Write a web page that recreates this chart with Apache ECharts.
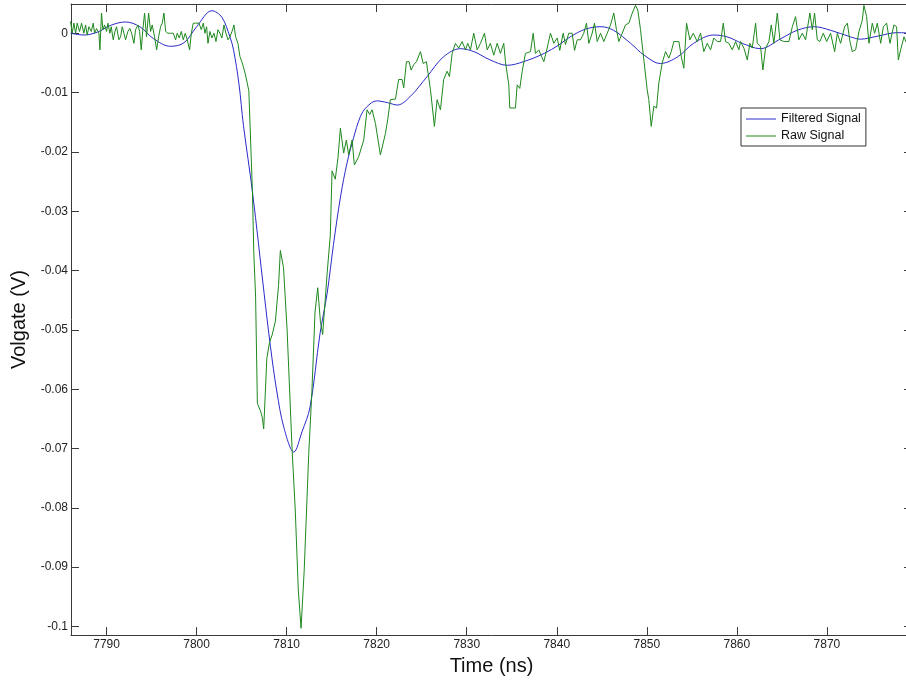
<!DOCTYPE html>
<html><head><meta charset="utf-8">
<script src="https://cdn.jsdelivr.net/npm/echarts@6/dist/echarts.min.js"></script>
<style>html,body{margin:0;padding:0;background:#fff;overflow:hidden;width:906px;height:681px}#c{width:912px;height:681px}</style>
</head><body><div id="c"></div>
<script>
const xTickValues = [7790, 7800, 7810, 7820, 7830, 7840, 7850, 7860, 7870];
const yTickValues = [0, -0.01, -0.02, -0.03, -0.04, -0.05, -0.06, -0.07, -0.08, -0.09, -0.1];
const seriesNames = ['Filtered Signal', 'Raw Signal'];

const filteredSignal = [
[7786.0,0.0],[7787.5,-0.0003],[7789.0,0.0002],[7790.4,0.0013],[7792.1,0.0019],[7793.7,0.0011],
[7795.2,-0.0009],[7797.1,-0.0022],[7798.6,-0.0016],[7800.0,0.0011],[7801.7,0.0038],[7802.8,0.0027],
[7803.7,-0.0006],[7804.1,-0.0028],[7804.7,-0.0085],[7805.2,-0.0155],[7806.2,-0.0267],[7807.5,-0.0439],
[7808.2,-0.0528],[7808.9,-0.0603],[7809.7,-0.0665],[7810.8,-0.0706],[7811.7,-0.0672],[7812.6,-0.0630],
[7813.7,-0.0507],[7814.5,-0.0438],[7815.2,-0.0356],[7816.0,-0.0274],[7816.7,-0.0219],[7817.4,-0.0178],
[7818.2,-0.0140],[7818.9,-0.0124],[7820.0,-0.0114],[7821.2,-0.0117],[7822.3,-0.0121],[7823.7,-0.0107],
[7825.6,-0.0073],[7827.4,-0.0040],[7829.3,-0.0026],[7830.8,-0.0031],[7832.6,-0.0045],[7834.5,-0.0054],
[7836.3,-0.0048],[7838.6,-0.0034],[7840.2,-0.0020],[7841.5,-0.0006],[7843.2,0.0007],[7844.9,0.0011],
[7846.3,0.0005],[7848.2,-0.0017],[7849.7,-0.0037],[7851.5,-0.0051],[7853.4,-0.0040],[7855.2,-0.0017],
[7857.4,-0.0003],[7858.9,-0.0006],[7860.6,-0.0017],[7862.6,-0.0026],[7864.9,-0.0009],[7866.7,0.0005],
[7868.6,0.0011],[7870.4,0.0005],[7872.6,-0.0006],[7873.7,-0.0010],[7875.6,-0.0005],[7877.8,0.0001],
[7879.4,0.0]
];

const rawSignal = [
[7786.00,0.0020],[7786.19,0],[7786.37,0.0017],[7786.56,0],[7786.74,0.0017],[7787.00,0.0003],[7787.22,0.0017],
[7787.48,0],[7787.67,0.0014],[7787.85,-0.0003],[7788.04,0.0011],[7788.30,0.0003],[7788.52,0.0017],[7788.67,0],
[7788.89,0.0008],[7789.15,0],[7789.26,-0.0028],[7789.44,0.0034],[7789.59,0.0006],[7789.78,0.0014],[7790.00,0.0003],
[7790.15,0.0017],[7790.37,0],[7790.52,0.0011],[7790.74,-0.0011],[7790.93,0.0003],[7791.11,0.0011],[7791.37,-0.0011],
[7791.56,-0.0006],[7791.74,0.0011],[7791.93,0],[7792.11,-0.0011],[7792.37,0.0003],[7792.59,0.0008],[7792.78,0],
[7793.04,-0.0017],[7793.22,0.0006],[7793.48,0.0014],[7793.67,0.0003],[7793.85,-0.0028],[7794.04,0.0008],[7794.22,0.0034],
[7794.44,-0.0006],[7794.67,0.0034],[7794.89,0.0003],[7795.07,0.0014],[7795.33,-0.0006],[7795.56,-0.0028],[7795.78,-0.0006],
[7796.00,0.0011],[7796.19,0.0017],[7796.37,0.0034],[7796.56,0.0003],[7796.81,0],[7797.11,0],[7797.41,0],
[7797.67,-0.0011],[7797.85,0],[7798.07,-0.0008],[7798.30,0.0003],[7798.52,-0.0011],[7798.74,0],[7798.96,-0.0011],
[7799.22,-0.0028],[7799.41,0],[7799.63,0.0017],[7799.89,0.0017],[7800.26,0.0017],[7800.52,0.0006],[7800.74,0.0017],
[7800.93,0],[7801.11,0.0011],[7801.26,-0.0017],[7801.48,0.0003],[7801.70,-0.0008],[7801.93,0],[7802.15,-0.0014],
[7802.37,0.0006],[7802.59,0],[7802.81,-0.0008],[7803.04,0.0014],[7803.26,0],[7803.48,-0.0011],[7803.70,-0.0006],
[7803.93,0.0003],[7804.15,0.0014],[7804.33,-0.0006],[7804.59,-0.0017],[7804.81,-0.0039],[7805.07,-0.0050],[7805.40,-0.0068],
[7805.80,-0.0097],[7806.20,-0.0267],[7806.35,-0.0370],[7806.55,-0.0443],[7806.75,-0.0624],[7807.10,-0.0637],[7807.30,-0.0648],
[7807.45,-0.0667],[7807.80,-0.0548],[7808.10,-0.0521],[7808.40,-0.0508],[7808.75,-0.0485],[7809.10,-0.0425],[7809.30,-0.0366],
[7809.65,-0.0395],[7810.05,-0.0500],[7810.60,-0.0700],[7810.95,-0.0802],[7811.30,-0.0940],[7811.60,-0.1003],[7811.95,-0.0905],
[7812.45,-0.0710],[7812.80,-0.0605],[7813.15,-0.0470],[7813.45,-0.0429],[7813.75,-0.0486],[7814.00,-0.0508],[7814.50,-0.0404],
[7814.85,-0.0340],[7815.04,-0.0232],[7815.40,-0.0246],[7815.70,-0.0210],[7815.97,-0.0160],[7816.33,-0.0202],[7816.63,-0.0180],
[7816.89,-0.0205],[7817.27,-0.0180],[7817.52,-0.0222],[7818.00,-0.0208],[7818.56,-0.0180],[7818.93,-0.0129],[7819.22,-0.0137],
[7819.49,-0.0129],[7819.86,-0.0152],[7820.41,-0.0205],[7820.97,-0.0169],[7821.22,-0.0146],[7821.52,-0.0112],[7822.08,-0.0111],
[7822.44,-0.0078],[7822.82,-0.0078],[7823.00,-0.0092],[7823.30,-0.0048],[7823.60,-0.0048],[7823.82,-0.0062],[7824.11,-0.0053],
[7824.41,-0.0048],[7824.86,-0.0031],[7825.16,-0.0051],[7825.52,-0.0048],[7825.97,-0.0095],[7826.41,-0.0157],[7826.71,-0.0112],
[7827.08,-0.0129],[7827.44,-0.0078],[7827.82,-0.0064],[7828.08,-0.0073],[7828.38,-0.0034],[7828.74,-0.0017],[7829.11,-0.0025],
[7829.49,-0.0014],[7829.86,-0.0028],[7830.11,-0.0017],[7830.41,-0.0028],[7830.78,0],[7831.16,-0.0028],[7831.52,-0.0017],
[7831.97,0],[7832.27,-0.0028],[7832.63,-0.0017],[7833.00,-0.0037],[7833.38,-0.0017],[7833.74,-0.0034],[7834.11,-0.0017],
[7834.30,-0.0048],[7834.67,-0.0087],[7834.78,-0.0126],[7835.41,-0.0126],[7835.60,-0.0087],[7835.89,-0.0093],[7836.16,-0.0064],
[7836.52,-0.0034],[7837.08,-0.0031],[7837.38,0],[7837.63,-0.0034],[7838.00,-0.0028],[7838.56,-0.0048],[7838.93,-0.0025],
[7839.30,0],[7839.67,-0.0017],[7840.04,-0.0008],[7840.33,-0.0029],[7840.71,0],[7840.97,-0.0019],[7841.33,0],
[7841.71,0],[7841.97,-0.0029],[7842.27,-0.0011],[7842.63,-0.0011],[7843.00,0],[7843.30,0.0017],[7843.56,-0.0017],
[7843.93,0],[7844.19,0.0017],[7844.49,-0.0014],[7844.86,0],[7845.22,-0.0014],[7845.60,0],[7845.97,0.0014],
[7846.33,0.0034],[7846.63,0.0006],[7846.89,-0.0014],[7847.27,0],[7847.63,0.0014],[7848.00,0.0017],[7848.38,0.0034],
[7848.74,0.0047],[7849.00,0.0039],[7849.30,0.0006],[7849.67,-0.0045],[7850.04,-0.0095],[7850.22,-0.0112],[7850.49,-0.0157],
[7850.78,-0.0123],[7851.08,-0.0126],[7851.33,-0.0084],[7851.71,-0.0050],[7852.08,-0.0031],[7852.44,-0.0042],[7852.71,-0.0031],
[7853.00,-0.0014],[7853.56,-0.0014],[7853.82,-0.0039],[7854.11,-0.0059],[7854.41,0.0017],[7854.78,-0.0011],[7855.16,0],
[7855.60,-0.0014],[7855.97,0],[7856.33,-0.0031],[7856.71,-0.0017],[7857.08,-0.0028],[7857.44,-0.0008],[7857.82,-0.0014],
[7858.19,-0.0014],[7858.49,0.0017],[7858.74,-0.0014],[7859.11,-0.0017],[7859.49,-0.0028],[7859.86,-0.0014],[7860.22,-0.0028],
[7860.41,-0.0014],[7860.78,-0.0025],[7861.16,-0.0045],[7861.44,-0.0017],[7861.71,-0.0025],[7862.08,0.0017],[7862.27,-0.0017],
[7862.63,-0.0022],[7862.89,-0.0062],[7863.19,-0.0025],[7863.56,-0.0014],[7863.82,0.0014],[7864.11,-0.0017],[7864.49,0.0034],
[7864.78,-0.0011],[7865.22,-0.0014],[7865.78,-0.0014],[7866.16,0.0011],[7866.52,0.0028],[7866.89,-0.0011],[7867.27,0],
[7867.63,-0.0011],[7868.11,0.0034],[7868.38,0.0006],[7868.63,0.0034],[7868.93,-0.0011],[7869.22,-0.0014],[7869.60,0],
[7869.97,-0.0014],[7870.41,0],[7870.86,-0.0031],[7871.16,0],[7871.52,-0.0017],[7871.97,0.0011],[7872.27,0.0017],
[7872.56,-0.0014],[7872.82,-0.0031],[7873.19,-0.0028],[7873.56,0.0003],[7873.93,0.0022],[7874.11,0.0047],[7874.41,0.0028],
[7874.67,-0.0017],[7875.04,0.0017],[7875.30,0],[7875.60,0.0017],[7875.97,-0.0017],[7876.27,0.0011],[7876.63,0.0017],
[7877.00,-0.0017],[7877.44,0.0014],[7877.74,0.0011],[7877.93,-0.0045],[7878.19,-0.0028],[7878.56,-0.0006],[7878.86,-0.0017]
];

const FONT = 'Arial, "Liberation Sans", sans-serif';
const AXIS_COLOR = '#3a3a3a';
const xMin = 7786.05, xMax = 7879.45, yMin = -0.10145, yMax = 0.00493;

const chart = echarts.init(document.getElementById('c'), null, {renderer: 'canvas'});
const baseX = {
  type: 'value', min: xMin, max: xMax,
  axisLine: {show: true, onZero: false, lineStyle: {color: AXIS_COLOR, width: 1}},
  axisTick: {show: true, inside: true, length: 8, customValues: xTickValues, lineStyle: {color: AXIS_COLOR}},
  splitLine: {show: false}
};
const baseY = {
  type: 'value', min: yMin, max: yMax,
  axisLine: {show: true, onZero: false, lineStyle: {color: AXIS_COLOR, width: 1}},
  axisTick: {show: true, inside: true, length: 8, customValues: yTickValues, lineStyle: {color: AXIS_COLOR}},
  splitLine: {show: false}
};
chart.setOption({
  animation: false,
  backgroundColor: '#ffffff',
  grid: {left: 71, top: 4, right: 0, bottom: 45, containLabel: false},
  legend: {
    data: seriesNames, orient: 'vertical', left: 741, top: 108,
    icon: 'path://M0,0 L30,0 L30,1 L0,1 Z',
    padding: [4, 5, 3, 5], itemWidth: 30, itemHeight: 1.3, itemGap: 3,
    borderColor: '#333', borderWidth: 1, backgroundColor: '#fff', borderRadius: 0,
    textStyle: {fontFamily: FONT, fontSize: 12.5, color: '#111', lineHeight: 14}
  },
  xAxis: [
    Object.assign({}, baseX, {
      position: 'bottom', name: 'Time (ns)', nameLocation: 'middle', nameGap: 17,
      nameTextStyle: {fontFamily: FONT, fontSize: 20, color: '#111'},
      axisLabel: {show: true, customValues: xTickValues, margin: 4, fontFamily: FONT, fontSize: 12, color: '#222',
        formatter: function (v) { return String(v); }}
    }),
    Object.assign({}, baseX, {position: 'top', axisLabel: {show: false}})
  ],
  yAxis: [
    Object.assign({}, baseY, {
      position: 'left', name: 'Volgate (V)', nameLocation: 'middle', nameGap: 41,
      nameTextStyle: {fontFamily: FONT, fontSize: 20, color: '#111'},
      axisLabel: {show: true, customValues: yTickValues, margin: 3, fontFamily: FONT, fontSize: 12, color: '#222'}
    }),
    Object.assign({}, baseY, {position: 'right', axisLabel: {show: false}})
  ],
  series: [
    {name: seriesNames[0], type: 'line', data: filteredSignal, symbol: 'none', smooth: 0.35,
     lineStyle: {color: '#2a2ac8', width: 1}, itemStyle: {color: '#2a2ac8'}, z: 2},
    {name: seriesNames[1], type: 'line', data: rawSignal, symbol: 'none',
     lineStyle: {color: '#1e881e', width: 1}, itemStyle: {color: '#1e881e'}, z: 3}
  ]
});
</script></body></html>
